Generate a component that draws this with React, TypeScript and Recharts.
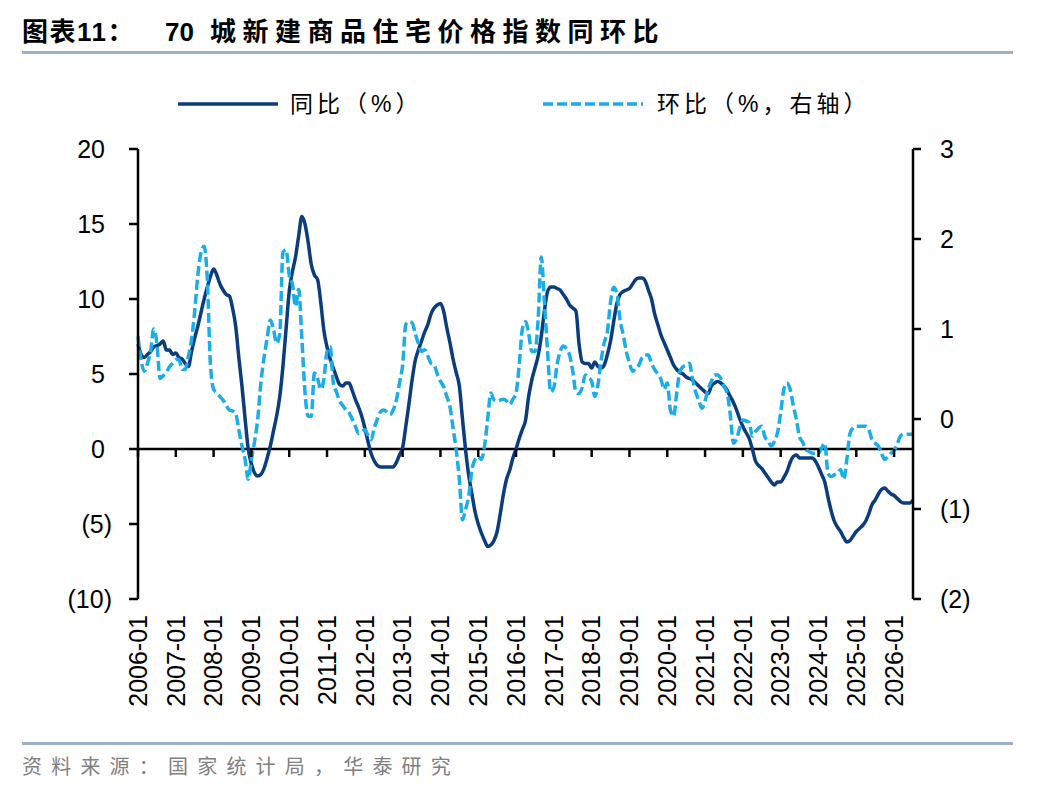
import React from "react";
import { LineChart, Line, XAxis, YAxis, ReferenceLine } from "recharts";

// 70城新建商品住宅价格指数：同比（%，左轴）与环比（%，右轴），2006-01 起按月
const START_YEAR = 2006;

const yoy = [
  7.0, 6.3, 6.1, 6.3, 6.5, 6.8, 6.9, 7.0, 7.2, 6.6, 6.6, 6.3, // 2006
  6.4, 6.1, 6.0, 5.7, 5.5, 6.5, 7.4, 8.2, 9.1, 10.0, 10.8, 11.5, // 2007
  12.0, 11.6, 11.0, 10.6, 10.3, 10.2, 9.4, 8.2, 6.1, 4.2, 2.0, 0.0, // 2008
  -1.0, -1.6, -1.8, -1.7, -1.3, -0.6, 0.2, 1.2, 2.2, 3.5, 5.5, 8.0, // 2009
  10.5, 11.8, 12.8, 14.2, 15.5, 15.0, 13.8, 12.3, 11.6, 11.3, 9.8, 7.9, // 2010
  6.8, 6.0, 5.4, 4.8, 4.3, 4.2, 4.4, 4.4, 3.9, 3.3, 2.8, 2.2, // 2011
  1.4, 0.5, -0.3, -0.8, -1.1, -1.2, -1.2, -1.2, -1.2, -1.2, -0.9, -0.4, // 2012
  0.1, 1.5, 3.0, 4.6, 5.9, 6.6, 7.2, 7.8, 8.3, 9.0, 9.4, 9.6, // 2013
  9.7, 9.2, 8.1, 7.1, 6.0, 5.1, 4.2, 2.0, -0.1, -1.8, -3.0, -4.2, // 2014
  -5.0, -5.6, -6.1, -6.5, -6.4, -6.1, -5.5, -4.3, -3.0, -2.0, -1.4, -0.6, // 2015
  0.0, 0.7, 1.3, 1.9, 3.5, 4.6, 5.4, 6.2, 7.5, 9.2, 10.5, 10.8, // 2016
  10.8, 10.7, 10.6, 10.3, 10.0, 9.6, 9.4, 9.2, 7.0, 5.8, 5.7, 5.7, // 2017
  5.4, 5.8, 5.5, 5.4, 5.6, 6.3, 7.2, 8.5, 9.7, 10.3, 10.5, 10.6, // 2018
  10.7, 11.0, 11.3, 11.4, 11.4, 11.2, 10.6, 10.0, 9.0, 8.3, 7.6, 7.1, // 2019
  6.6, 6.1, 5.6, 5.3, 5.1, 5.0, 4.8, 4.7, 4.6, 4.4, 4.2, 4.0, // 2020
  3.8, 3.7, 4.2, 4.4, 4.5, 4.4, 4.2, 3.9, 3.5, 3.1, 2.6, 2.0, // 2021
  1.5, 1.1, 0.7, 0.0, -0.8, -1.1, -1.3, -1.6, -1.9, -2.2, -2.4, -2.2, // 2022
  -2.2, -1.9, -1.5, -0.9, -0.5, -0.4, -0.6, -0.6, -0.6, -0.6, -0.6, -0.8, // 2023
  -1.2, -1.7, -2.2, -3.2, -4.1, -4.8, -5.2, -5.5, -5.9, -6.2, -6.1, -5.8, // 2024
  -5.5, -5.3, -5.1, -4.8, -4.3, -3.7, -3.4, -3.0, -2.7, -2.6, -2.8, -3.0, // 2025
  -3.1, -3.3, -3.5, -3.6, -3.6, -3.6, -3.4, // 2026
];

const mom = [
  0.92, 0.65, 0.53, 0.62, 0.75, 1.0, 0.84, 0.45, 0.48, 0.52, 0.58, 0.62, // 2006
  0.66, 0.66, 0.55, 0.55, 0.7, 0.88, 1.2, 1.6, 1.85, 1.92, 1.55, 0.6, // 2007
  0.33, 0.29, 0.25, 0.21, 0.15, 0.1, 0.09, 0.06, -0.12, -0.3, -0.45, -0.67, // 2008
  -0.45, -0.25, 0.0, 0.4, 0.68, 0.9, 1.1, 1.0, 0.84, 0.95, 1.85, 1.88, // 2009
  1.6, 1.5, 1.25, 1.44, 0.9, 0.3, 0.03, 0.03, 0.51, 0.45, 0.33, 0.44, // 2010
  0.75, 0.8, 0.4, 0.3, 0.2, 0.15, 0.1, 0.07, 0.0, -0.08, -0.16, -0.14, // 2011
  -0.12, -0.18, -0.23, -0.1, 0.0, 0.08, 0.1, 0.08, 0.05, 0.1, 0.21, 0.4, // 2012
  0.6, 1.05, 1.08, 1.07, 0.95, 0.84, 0.75, 0.77, 0.7, 0.62, 0.6, 0.5, // 2013
  0.42, 0.36, 0.25, 0.14, -0.1, -0.34, -0.67, -1.12, -1.0, -0.85, -0.56, -0.45, // 2014
  -0.42, -0.45, -0.3, 0.0, 0.29, 0.21, 0.2, 0.21, 0.22, 0.2, 0.16, 0.22, // 2015
  0.29, 0.6, 1.0, 1.08, 0.95, 0.75, 0.75, 1.1, 1.8, 1.3, 0.75, 0.3, // 2016
  0.35, 0.6, 0.75, 0.81, 0.78, 0.71, 0.53, 0.3, 0.28, 0.35, 0.49, 0.46, // 2017
  0.42, 0.25, 0.38, 0.65, 0.85, 0.97, 1.3, 1.46, 1.4, 1.1, 0.94, 0.75, // 2018
  0.62, 0.53, 0.56, 0.6, 0.68, 0.71, 0.71, 0.62, 0.55, 0.5, 0.44, 0.33, // 2019
  0.4, 0.1, 0.03, 0.29, 0.53, 0.58, 0.6, 0.62, 0.45, 0.3, 0.21, 0.12, // 2020
  0.2, 0.34, 0.42, 0.49, 0.49, 0.45, 0.36, 0.29, 0.05, -0.27, -0.22, -0.1, // 2021
  -0.01, -0.02, -0.04, -0.19, -0.14, -0.1, -0.08, -0.2, -0.24, -0.3, -0.25, -0.15, // 2022
  0.07, 0.33, 0.4, 0.33, 0.15, -0.01, -0.2, -0.26, -0.34, -0.36, -0.38, -0.38, // 2023
  -0.38, -0.32, -0.27, -0.6, -0.64, -0.62, -0.6, -0.56, -0.67, -0.45, -0.16, -0.1, // 2024
  -0.08, -0.08, -0.08, -0.08, -0.12, -0.23, -0.27, -0.3, -0.38, -0.45, -0.42, -0.38, // 2025
  -0.35, -0.28, -0.19, -0.17, -0.17, -0.17, -0.17, // 2026
];

const months = yoy.map(
  (_, i) => `${START_YEAR + Math.floor(i / 12)}-${String((i % 12) + 1).padStart(2, "0")}`
);
const yearTicks = months.filter((m) => m.endsWith("-01"));
const leftTicks = [-10, -5, 0, 5, 10, 15, 20];
const rightTicks = [-2, -1, 0, 1, 2, 3];

const data = months.map((m, i) => ({ m, yoy: yoy[i], mom: mom[i] }));

const W = 1048;
const H = 792;
const PLOT_TOP = 149;
const PLOT_BOTTOM = 599;
const AXIS_LEFT = 138;
const AXIS_RIGHT = 913;
const LEFT_MIN = -10;
const LEFT_MAX = 20;
const ZERO_Y = PLOT_TOP + ((PLOT_BOTTOM - PLOT_TOP) * LEFT_MAX) / (LEFT_MAX - LEFT_MIN);

const FONT = "'Liberation Sans', Arial, 'Noto Sans CJK SC', sans-serif";
const NAVY = "#0B3C7D";
const SKY = "#1AADEA";
const RULE = "#9BB1CB";

const fmt = (v: number) => (v < 0 ? `(${-v})` : `${v}`);

const LeftTick = (p: any) => {
  const v = p.payload.value;
  return (
    <text x={v < 0 ? p.x : p.x - 7} y={p.y} dy="0.35em" textAnchor="end" fontSize={25} fill="#000" fontFamily={FONT}>
      {fmt(v)}
    </text>
  );
};

const RightTick = (p: any) => (
  <text x={p.x} y={p.y} dy="0.35em" textAnchor="start" fontSize={25} fill="#000" fontFamily={FONT}>
    {fmt(p.payload.value)}
  </text>
);

const XTick = (p: any) => (
  <g>
    <line x1={p.x} x2={p.x} y1={ZERO_Y} y2={ZERO_Y + 8} stroke="#000" strokeWidth={2.5} />
    <text
      transform={`translate(${p.x},${p.y + 16}) rotate(-90)`}
      textAnchor="end"
      dy="0.35em"
      fontSize={25}
      fill="#000"
      fontFamily={FONT}
    >
      {p.payload.value}
    </text>
  </g>
);

const titleStyle: React.CSSProperties = {
  position: "absolute",
  top: 16,
  fontSize: 26,
  fontWeight: 700,
  lineHeight: "32px",
  whiteSpace: "nowrap",
  color: "#000",
};

export default function App() {
  return (
    <div style={{ position: "absolute", left: 0, top: 0, width: W, height: H, background: "#fff", fontFamily: FONT }}>
      <div style={{ ...titleStyle, left: 22, letterSpacing: 1.5 }}>图表11：</div>
      <div style={{ ...titleStyle, left: 165 }}>70</div>
      <div style={{ ...titleStyle, left: 210, letterSpacing: 6.5 }}>城新建商品住宅价格指数同环比</div>
      <div style={{ position: "absolute", left: 22, top: 51, width: 991, height: 3, background: RULE }} />

      <svg style={{ position: "absolute", left: 0, top: 0 }} width={W} height={140}>
        <line x1={178} x2={278} y1={104} y2={104} stroke={NAVY} strokeWidth={3.5} />
        <line x1={543} x2={643} y1={104} y2={104} stroke={SKY} strokeWidth={3.5} strokeDasharray="10 4" />
      </svg>
      <div style={{ position: "absolute", left: 290, top: 89, fontSize: 23, lineHeight: "30px", letterSpacing: 4, whiteSpace: "nowrap", color: "#000" }}>
        同比（%）
      </div>
      <div style={{ position: "absolute", left: 657, top: 89, fontSize: 23, lineHeight: "30px", letterSpacing: 4, whiteSpace: "nowrap", color: "#000" }}>
        环比（%，右轴）
      </div>

      <div style={{ position: "absolute", left: 0, top: 0 }}>
        <LineChart width={W} height={H} data={data} margin={{ top: PLOT_TOP, right: 0, bottom: 0, left: 0 }}>
          <XAxis
            dataKey="m"
            type="category"
            scale="point"
            padding={{ left: 0, right: 0 }}
            ticks={yearTicks}
            interval={0}
            height={H - PLOT_BOTTOM}
            axisLine={false}
            tickLine={false}
            tickSize={0}
            tickMargin={0}
            tick={XTick}
          />
          <YAxis
            yAxisId="left"
            width={AXIS_LEFT}
            domain={[LEFT_MIN, LEFT_MAX]}
            ticks={leftTicks}
            interval={0}
            allowDataOverflow
            tickSize={9}
            tickMargin={17}
            axisLine={{ stroke: "#000", strokeWidth: 2.5 }}
            tickLine={{ stroke: "#000", strokeWidth: 2.5 }}
            tick={LeftTick}
          />
          <YAxis
            yAxisId="right"
            orientation="right"
            width={W - AXIS_RIGHT}
            domain={[-2, 3]}
            ticks={rightTicks}
            interval={0}
            allowDataOverflow
            tickSize={8}
            tickMargin={19}
            axisLine={{ stroke: "#000", strokeWidth: 2.5 }}
            tickLine={{ stroke: "#000", strokeWidth: 2.5 }}
            tick={RightTick}
          />
          <ReferenceLine yAxisId="left" y={0} stroke="#000" strokeWidth={2.5} />
          <Line
            yAxisId="left"
            type="monotone"
            dataKey="yoy"
            stroke={NAVY}
            strokeWidth={3.5}
            dot={false}
            isAnimationActive={false}
          />
          <Line
            yAxisId="right"
            type="monotone"
            dataKey="mom"
            stroke={SKY}
            strokeWidth={3.5}
            strokeDasharray="10 4"
            dot={false}
            isAnimationActive={false}
          />
        </LineChart>
      </div>

      <div style={{ position: "absolute", left: 22, top: 742, width: 991, height: 3, background: RULE }} />
      <div style={{ position: "absolute", left: 22, top: 753, fontSize: 20, lineHeight: "28px", letterSpacing: 9.2, whiteSpace: "nowrap", color: "#808080" }}>
        资料来源：国家统计局，华泰研究
      </div>
    </div>
  );
}
